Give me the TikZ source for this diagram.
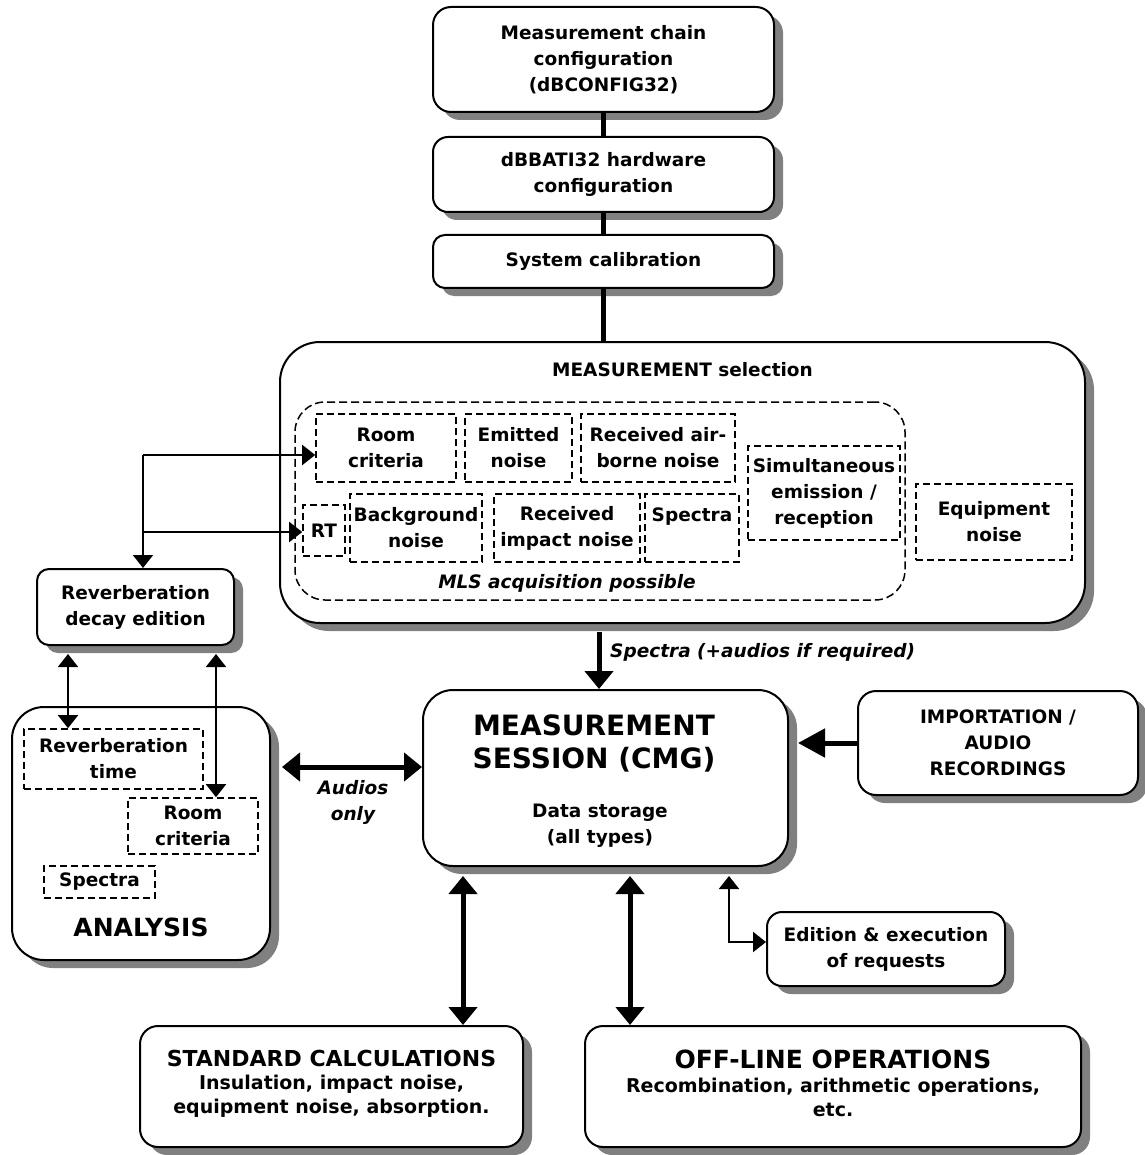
\documentclass[tikz,border=0pt]{standalone}
\usepackage{fontspec}
\setmainfont{DejaVu Sans}
\usetikzlibrary{shadows,positioning,arrows.meta,calc}
\newcommand{\nsz}{\fontsize{18.5}{26}\selectfont}
\newcommand{\bsz}{\fontsize{28}{33}\selectfont}
\newcommand{\hsz}{\fontsize{25}{30}\selectfont}
\newcommand{\ssz}{\fontsize{22}{27}\selectfont}
\tikzset{
  shd/.style={drop shadow={shadow xshift=9pt,shadow yshift=-8pt,fill=black!50,opacity=1}},
  rectnode/.style args={#1,#2,#3}{
    draw=black, line width=2pt, fill=white, rounded corners=#3pt, shd,
    minimum width=#1pt, minimum height=#2pt, inner sep=0pt,
    align=center, font=\nsz\bfseries
  },
  dashnode/.style args={#1,#2}{
    draw=black, line width=1.6pt, dash pattern=on 7pt off 4pt,
    minimum width=#1pt, minimum height=#2pt, inner sep=0pt,
    align=center, font=\nsz\bfseries
  },
  txt/.style={inner sep=0pt, align=center, font=\nsz\bfseries},
  itxt/.style={inner sep=0pt, align=center, font=\nsz\bfseries\itshape},
  wire/.style={line width=5pt},
  thk/.style={line width=5pt, -{Triangle[length=18pt,width=28pt]}},
  thkd/.style={line width=5pt, {Triangle[length=18pt,width=28pt]}-{Triangle[length=18pt,width=28pt]}},
  thn/.style={line width=2pt, -{Triangle[length=13pt,width=20pt]}},
  thnd/.style={line width=2pt, {Triangle[length=13pt,width=20pt]}-{Triangle[length=13pt,width=20pt]}}
}
\begin{document}
\begin{tikzpicture}[x=1pt,y=-1pt]
  \useasboundingbox (0,0) rectangle (1144,1155);

  % configuration chain
  \node [rectnode={341,105,18}] (cfg) at (603.5,59.5) {Measurement chain\\configuration\\(dBCONFIG32)};
  \node [rectnode={341,75,15}] (hw) at (603.5,174.5) {dBBATI32 hardware\\configuration};
  \node [rectnode={341,53,12}] (cal) at (603.5,261.5) {System calibration};

  % measurement selection
  \node [rectnode={805,281,40}] (sel) at (682.5,482.5) {};
  \node [txt] (selt) at (682.5,370) {MEASUREMENT selection};
  \node [draw=black, line width=1.5pt, dash pattern=on 8pt off 4pt, rounded corners=30pt,
         minimum width=610pt, minimum height=198pt] (mls) at (600,501) {};
  \node [itxt] (mlst) at (567,583) {MLS acquisition possible};
  \node [dashnode={140,68}] (room) at (386,448) {Room\\criteria};
  \node [dashnode={107,68}] (emit) at (518.5,448) {Emitted\\noise};
  \node [dashnode={154,68}] (air) at (658,448) {Received air-\\borne noise};
  \node [dashnode={152,94}] (simul) at (824,493) {Simultaneous\\emission /\\reception};
  \node [dashnode={42,51}] (rt) at (324,530.5) {RT};
  \node [dashnode={132,68}] (bg) at (416,528) {Background\\noise};
  \node [dashnode={146,68}] (imp) at (567,528) {Received\\impact noise};
  \node [dashnode={94,68}] (spec) at (692,528) {Spectra\\\mbox{}};
  \node [dashnode={156,76}] (equip) at (994,522) {Equipment\\noise};

  % reverberation / analysis
  \node [rectnode={197,76,12}] (rev) at (135.5,607) {Reverberation\\decay edition};
  \node [rectnode={258,253,32}] (ana) at (141,833.5) {};
  \node [dashnode={179,60}] (rtime) at (113.5,759) {Reverberation\\time};
  \node [dashnode={130,56}] (rcrit) at (193,826) {Room\\criteria};
  \node [dashnode={111,32}] (aspec) at (99.5,882) {Spectra};
  \node [txt, font=\hsz\bfseries] (anat) at (141,927) {ANALYSIS};

  % session and the rest
  \node [rectnode={365,176,30}] (sess) at (605.5,778) {};
  \node [txt, font=\bsz\bfseries] (sesst) at (594,743.5) {MEASUREMENT\\SESSION (CMG)};
  \node [txt] (sessb) at (600,825.5) {Data storage\\(all types)};
  \node [rectnode={280,104,18}] (impt) at (998,743) {IMPORTATION /\\AUDIO\\RECORDINGS};
  \node [rectnode={238,74,15}] (req) at (886,949) {Edition \& execution\\of requests};
  \node [rectnode={383,121,18}] (std) at (331.5,1086.5) {};
  \node [txt, font=\ssz\bfseries] (stdt) at (331.5,1058) {STANDARD CALCULATIONS};
  \node [txt, font=\fontsize{19}{24}\selectfont\bfseries] (stdb) at (331.5,1096) {Insulation, impact noise,\\equipment noise, absorption.};
  \node [rectnode={496,121,18}] (off) at (833,1086.5) {};
  \node [txt, font=\hsz\bfseries] (offt) at (833,1059) {OFF-LINE OPERATIONS};
  \node [txt, font=\fontsize{19}{24}\selectfont\bfseries] (offb) at (833,1097) {Recombination, arithmetic operations,\\etc.};

  % connectors
  \path[wire] (cfg) edge (hw)
              (hw) edge (cal)
              (cal.south) edge (cal.south |- sel.north);

  \coordinate (br) at (143,455);
  \coordinate (br2) at (143,532);
  \draw[thn] (br) -- (br -| room.west);
  \draw[thn] (br2) -- (br2 -| rt.west);
  \draw[thn] (br) -- (br |- rev.north);

  \coordinate (ra) at ([xshift=-67.5pt,yshift=-8pt]rev.south);
  \coordinate (rb) at ([xshift=80.5pt,yshift=-8pt]rev.south);
  \draw[thnd] (ra) -- (ra |- rtime.north);
  \draw[thnd] (rb) -- (rb |- rcrit.north);

  \coordinate (s0) at (599,632);
  \draw[thk] (s0) -- (s0 |- sess.north);
  \node [itxt, anchor=west] (spl) at (610,652) {Spectra (+audios if required)};

  \coordinate (a1) at (282,767);
  \draw[thkd] (a1) -- (a1 -| sess.west);
  \node [itxt] (aud) at (353,802) {Audios\\only};

  \coordinate (i1) at (798,743);
  \draw[line width=5pt, -{Triangle[length=27pt,width=28pt]}] (impt.west) -- (i1);

  \coordinate (b1) at (463,876);
  \coordinate (b2) at (630,876);
  \coordinate (b3) at (729,876);
  \draw[thkd] (b1) -- (b1 |- std.north);
  \draw[thkd] (b2) -- (b2 |- off.north);
  \draw[thnd] (b3) |- ([yshift=7pt]req.west);
\end{tikzpicture}
\end{document}
